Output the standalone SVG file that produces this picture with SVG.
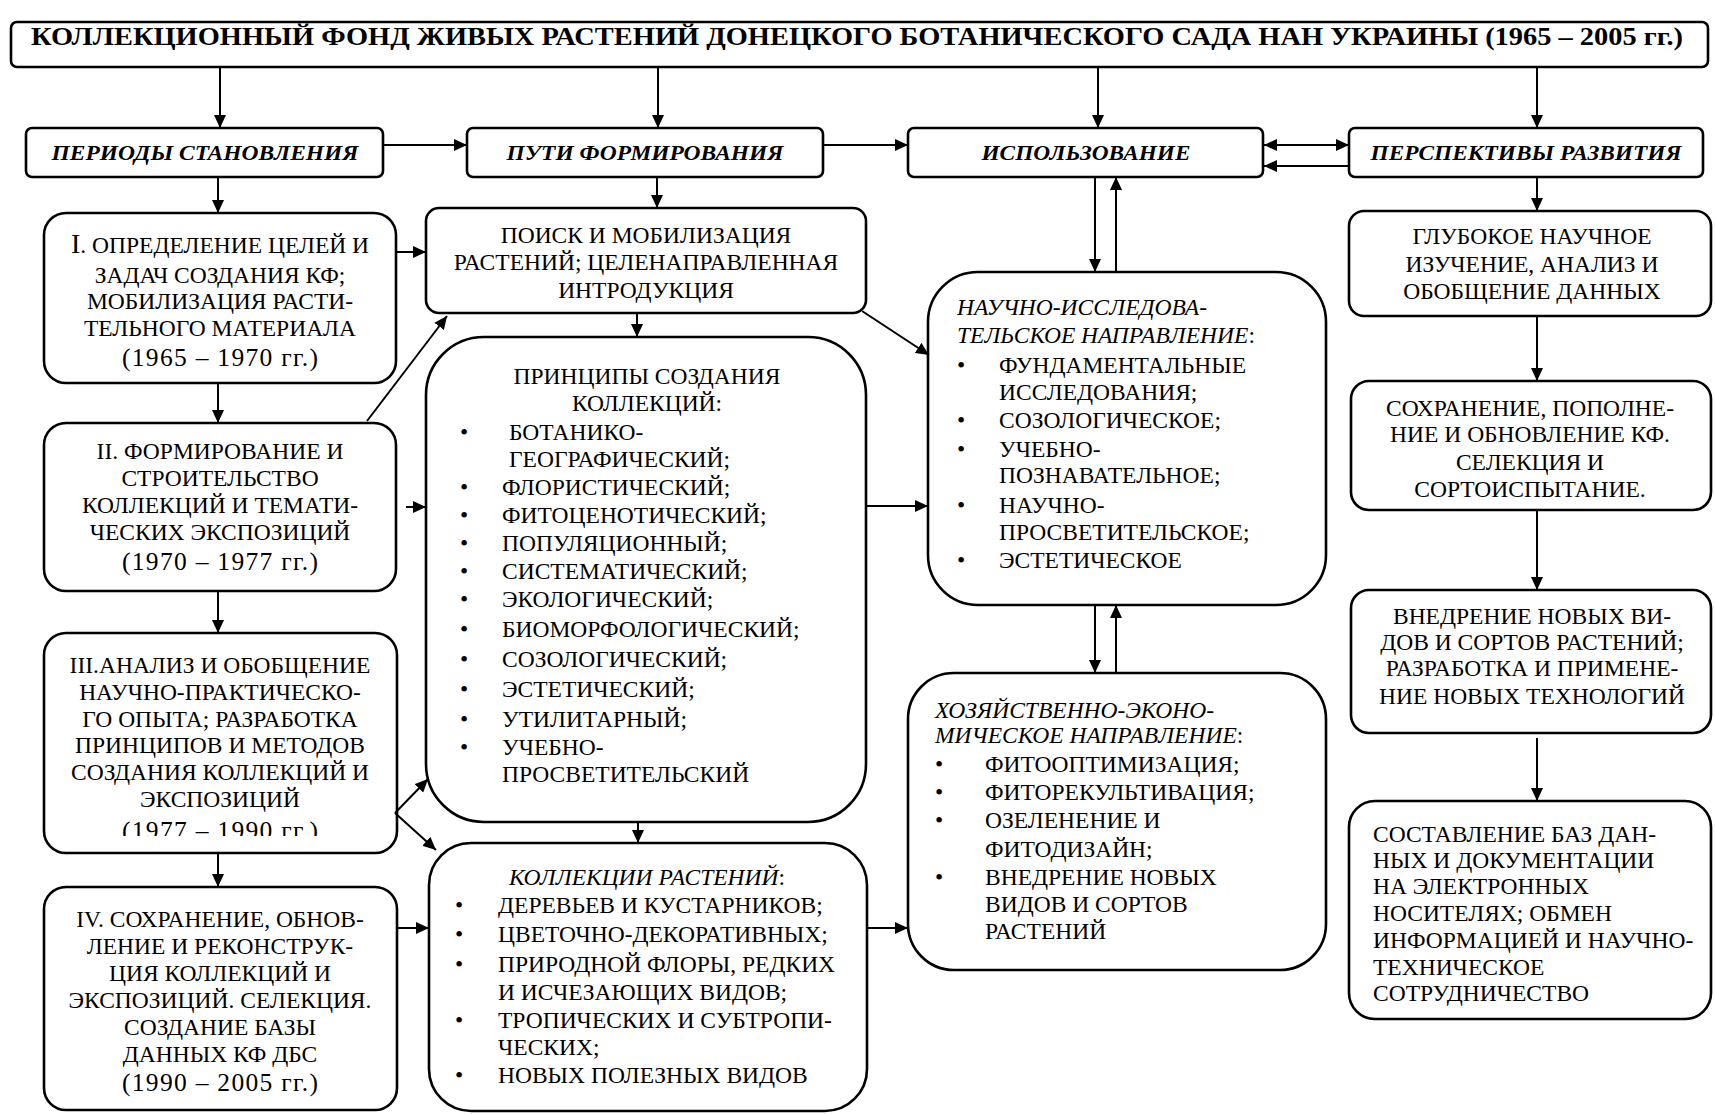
<svg xmlns="http://www.w3.org/2000/svg" width="1715" height="1114" viewBox="0 0 1715 1114">
<style>
.box{fill:#fff;stroke:#000;stroke-width:2.6}
.ln{fill:none;stroke:#000;stroke-width:2}
text{font-family:"Liberation Serif","Times New Roman",serif;fill:#000}
.t{font-size:23.5px}
.c{text-anchor:middle}
.it{font-style:italic}
.d{font-size:25.5px;text-anchor:middle}
.h{font-size:21px;font-weight:bold;font-style:italic;text-anchor:middle}
.ti{font-size:26px;font-weight:bold;text-anchor:middle}
</style>
<defs>
<marker id="ah" markerUnits="userSpaceOnUse" markerWidth="14" markerHeight="12" refX="13" refY="6" orient="auto-start-reverse">
<path d="M0,0 L13,6 L0,12 z" fill="#000"/>
</marker>
<clipPath id="clip3"><rect x="40" y="640" width="360" height="196"/></clipPath>
</defs>

<g id="title">
<rect class="box" x="11" y="22" width="1697" height="45" rx="6"/>
<text class="ti" x="857" y="45" textLength="1652" lengthAdjust="spacingAndGlyphs">КОЛЛЕКЦИОННЫЙ ФОНД ЖИВЫХ РАСТЕНИЙ ДОНЕЦКОГО БОТАНИЧЕСКОГО САДА  НАН УКРАИНЫ  (1965 – 2005 гг.)</text>
</g>

<g id="periods">
<rect class="box" x="26" y="128" width="357" height="49" rx="6"/>
<text class="h" x="205" y="160" textLength="307" lengthAdjust="spacingAndGlyphs">ПЕРИОДЫ СТАНОВЛЕНИЯ</text>
</g>
<g id="ways">
<rect class="box" x="467" y="128" width="356" height="49" rx="6"/>
<text class="h" x="645" y="160" textLength="277" lengthAdjust="spacingAndGlyphs">ПУТИ ФОРМИРОВАНИЯ</text>
</g>
<g id="usage">
<rect class="box" x="908" y="128" width="355" height="49" rx="6"/>
<text class="h" x="1086" y="160" textLength="209" lengthAdjust="spacingAndGlyphs">ИСПОЛЬЗОВАНИЕ</text>
</g>
<g id="prospects">
<rect class="box" x="1349" y="128" width="354" height="49" rx="6"/>
<text class="h" x="1526" y="160" textLength="311" lengthAdjust="spacingAndGlyphs">ПЕРСПЕКТИВЫ РАЗВИТИЯ</text>
</g>

<g id="period1">
<rect class="box" x="44" y="213" width="352" height="170" rx="22"/>
<text class="t c" x="220"><tspan x="220" y="253"><tspan font-size="28">I</tspan>. ОПРЕДЕЛЕНИЕ ЦЕЛЕЙ И</tspan><tspan x="220" y="283">ЗАДАЧ СОЗДАНИЯ КФ;</tspan><tspan x="220" y="309">МОБИЛИЗАЦИЯ РАСТИ-</tspan><tspan x="220" y="336">ТЕЛЬНОГО МАТЕРИАЛА</tspan></text>
<text class="d" x="220" y="366" textLength="196" lengthAdjust="spacing">(1965 – 1970 гг.)</text>
</g>
<g id="period2">
<rect class="box" x="44" y="423" width="352" height="168" rx="22"/>
<text class="t c" x="220"><tspan x="220" y="459">II. ФОРМИРОВАНИЕ И</tspan><tspan x="220" y="486">СТРОИТЕЛЬСТВО</tspan><tspan x="220" y="513">КОЛЛЕКЦИЙ И ТЕМАТИ-</tspan><tspan x="220" y="540">ЧЕСКИХ ЭКСПОЗИЦИЙ</tspan></text>
<text class="d" x="220" y="570" textLength="196" lengthAdjust="spacing">(1970 – 1977 гг.)</text>
</g>
<g id="period3">
<rect class="box" x="44" y="633" width="353" height="220" rx="22"/>
<text class="t c" x="220"><tspan x="220" y="673">III.АНАЛИЗ И ОБОБЩЕНИЕ</tspan><tspan x="220" y="700">НАУЧНО-ПРАКТИЧЕСКО-</tspan><tspan x="220" y="727">ГО ОПЫТА; РАЗРАБОТКА</tspan><tspan x="220" y="753">ПРИНЦИПОВ И МЕТОДОВ</tspan><tspan x="220" y="780">СОЗДАНИЯ КОЛЛЕКЦИЙ И</tspan><tspan x="220" y="807">ЭКСПОЗИЦИЙ</tspan></text>
<text class="d" x="220" y="839" textLength="196" lengthAdjust="spacing" clip-path="url(#clip3)">(1977 – 1990 гг.)</text>
</g>
<g id="period4">
<rect class="box" x="44" y="887" width="353" height="223" rx="22"/>
<text class="t c" x="220"><tspan x="220" y="927">IV. СОХРАНЕНИЕ, ОБНОВ-</tspan><tspan x="220" y="954">ЛЕНИЕ И РЕКОНСТРУК-</tspan><tspan x="220" y="981">ЦИЯ КОЛЛЕКЦИЙ И</tspan><tspan x="220" y="1008">ЭКСПОЗИЦИЙ. СЕЛЕКЦИЯ.</tspan><tspan x="220" y="1035">СОЗДАНИЕ БАЗЫ</tspan><tspan x="220" y="1062">ДАННЫХ КФ ДБС</tspan></text>
<text class="d" x="220" y="1091" textLength="196" lengthAdjust="spacing">(1990 – 2005 гг.)</text>
</g>

<g id="search">
<rect class="box" x="426" y="208" width="440" height="105" rx="13"/>
<text class="t c" x="646"><tspan x="646" y="243">ПОИСК И МОБИЛИЗАЦИЯ</tspan><tspan x="646" y="270">РАСТЕНИЙ; ЦЕЛЕНАПРАВЛЕННАЯ</tspan><tspan x="646" y="298">ИНТРОДУКЦИЯ</tspan></text>
</g>
<g id="principles">
<rect class="box" x="426" y="337" width="440" height="485" rx="58"/>
<text class="t c" x="647"><tspan x="647" y="384">ПРИНЦИПЫ СОЗДАНИЯ</tspan><tspan x="647" y="411">КОЛЛЕКЦИЙ:</tspan></text>
<text class="t"><tspan x="460" y="440">•</tspan><tspan x="460" y="495">•</tspan><tspan x="460" y="523">•</tspan><tspan x="460" y="551">•</tspan><tspan x="460" y="579">•</tspan><tspan x="460" y="607">•</tspan><tspan x="460" y="637">•</tspan><tspan x="460" y="667">•</tspan><tspan x="460" y="697">•</tspan><tspan x="460" y="727">•</tspan><tspan x="460" y="755">•</tspan></text>
<text class="t"><tspan x="509" y="440">БОТАНИКО-</tspan><tspan x="509" y="467">ГЕОГРАФИЧЕСКИЙ;</tspan><tspan x="502" y="495">ФЛОРИСТИЧЕСКИЙ;</tspan><tspan x="502" y="523">ФИТОЦЕНОТИЧЕСКИЙ;</tspan><tspan x="502" y="551">ПОПУЛЯЦИОННЫЙ;</tspan><tspan x="502" y="579">СИСТЕМАТИЧЕСКИЙ;</tspan><tspan x="502" y="607">ЭКОЛОГИЧЕСКИЙ;</tspan><tspan x="502" y="637">БИОМОРФОЛОГИЧЕСКИЙ;</tspan><tspan x="502" y="667">СОЗОЛОГИЧЕСКИЙ;</tspan><tspan x="502" y="697">ЭСТЕТИЧЕСКИЙ;</tspan><tspan x="502" y="727">УТИЛИТАРНЫЙ;</tspan><tspan x="502" y="755">УЧЕБНО-</tspan><tspan x="502" y="782">ПРОСВЕТИТЕЛЬСКИЙ</tspan></text>
</g>
<g id="collections">
<rect class="box" x="429" y="843" width="438" height="268" rx="42"/>
<text class="t c" x="647" y="885"><tspan class="it">КОЛЛЕКЦИИ РАСТЕНИЙ</tspan>:</text>
<text class="t"><tspan x="455" y="913">•</tspan><tspan x="455" y="942">•</tspan><tspan x="455" y="972">•</tspan><tspan x="455" y="1028">•</tspan><tspan x="455" y="1083">•</tspan></text>
<text class="t"><tspan x="498" y="913">ДЕРЕВЬЕВ И КУСТАРНИКОВ;</tspan><tspan x="498" y="942">ЦВЕТОЧНО-ДЕКОРАТИВНЫХ;</tspan><tspan x="498" y="972">ПРИРОДНОЙ ФЛОРЫ, РЕДКИХ</tspan><tspan x="498" y="1000">И ИСЧЕЗАЮЩИХ ВИДОВ;</tspan><tspan x="498" y="1028">ТРОПИЧЕСКИХ И СУБТРОПИ-</tspan><tspan x="498" y="1055">ЧЕСКИХ;</tspan><tspan x="498" y="1083">НОВЫХ ПОЛЕЗНЫХ ВИДОВ</tspan></text>
</g>

<g id="research">
<rect class="box" x="928" y="272" width="398" height="333" rx="50"/>
<text class="t"><tspan x="957" y="315" class="it">НАУЧНО-ИССЛЕДОВА-</tspan><tspan x="957" y="343"><tspan class="it">ТЕЛЬСКОЕ НАПРАВЛЕНИЕ</tspan>:</tspan></text>
<text class="t"><tspan x="957" y="373">•</tspan><tspan x="957" y="428">•</tspan><tspan x="957" y="457">•</tspan><tspan x="957" y="513">•</tspan><tspan x="957" y="568">•</tspan></text>
<text class="t"><tspan x="999" y="373">ФУНДАМЕНТАЛЬНЫЕ</tspan><tspan x="999" y="400">ИССЛЕДОВАНИЯ;</tspan><tspan x="999" y="428">СОЗОЛОГИЧЕСКОЕ;</tspan><tspan x="999" y="457">УЧЕБНО-</tspan><tspan x="999" y="483">ПОЗНАВАТЕЛЬНОЕ;</tspan><tspan x="999" y="513">НАУЧНО-</tspan><tspan x="999" y="540">ПРОСВЕТИТЕЛЬСКОЕ;</tspan><tspan x="999" y="568">ЭСТЕТИЧЕСКОЕ</tspan></text>
</g>
<g id="economic">
<rect class="box" x="908" y="673" width="418" height="297" rx="46"/>
<text class="t"><tspan x="935" y="718" class="it">ХОЗЯЙСТВЕННО-ЭКОНО-</tspan><tspan x="935" y="743"><tspan class="it">МИЧЕСКОЕ НАПРАВЛЕНИЕ</tspan>:</tspan></text>
<text class="t"><tspan x="935" y="772">•</tspan><tspan x="935" y="800">•</tspan><tspan x="935" y="828">•</tspan><tspan x="935" y="885">•</tspan></text>
<text class="t"><tspan x="985" y="772">ФИТООПТИМИЗАЦИЯ;</tspan><tspan x="985" y="800">ФИТОРЕКУЛЬТИВАЦИЯ;</tspan><tspan x="985" y="828">ОЗЕЛЕНЕНИЕ И</tspan><tspan x="985" y="857">ФИТОДИЗАЙН;</tspan><tspan x="985" y="885">ВНЕДРЕНИЕ НОВЫХ</tspan><tspan x="985" y="912">ВИДОВ И СОРТОВ</tspan><tspan x="985" y="939">РАСТЕНИЙ</tspan></text>
</g>

<g id="deep">
<rect class="box" x="1349" y="211" width="362" height="105" rx="15"/>
<text class="t c" x="1532"><tspan x="1532" y="244">ГЛУБОКОЕ НАУЧНОЕ</tspan><tspan x="1532" y="272">ИЗУЧЕНИЕ, АНАЛИЗ И</tspan><tspan x="1532" y="299">ОБОБЩЕНИЕ ДАННЫХ</tspan></text>
</g>
<g id="preserve">
<rect class="box" x="1351" y="381" width="360" height="129" rx="18"/>
<text class="t c" x="1530"><tspan x="1530" y="416">СОХРАНЕНИЕ, ПОПОЛНЕ-</tspan><tspan x="1530" y="442">НИЕ И ОБНОВЛЕНИЕ  КФ.</tspan><tspan x="1530" y="470">СЕЛЕКЦИЯ И</tspan><tspan x="1530" y="497">СОРТОИСПЫТАНИЕ.</tspan></text>
</g>
<g id="introduce">
<rect class="box" x="1351" y="590" width="360" height="143" rx="18"/>
<text class="t c" x="1532"><tspan x="1532" y="624">ВНЕДРЕНИЕ НОВЫХ ВИ-</tspan><tspan x="1532" y="650">ДОВ И СОРТОВ РАСТЕНИЙ;</tspan><tspan x="1532" y="676">РАЗРАБОТКА И ПРИМЕНЕ-</tspan><tspan x="1532" y="704">НИЕ НОВЫХ  ТЕХНОЛОГИЙ</tspan></text>
</g>
<g id="database">
<rect class="box" x="1349" y="801" width="362" height="218" rx="26"/>
<text class="t"><tspan x="1373" y="842">СОСТАВЛЕНИЕ БАЗ ДАН-</tspan><tspan x="1373" y="868">НЫХ И ДОКУМЕНТАЦИИ</tspan><tspan x="1373" y="894">НА ЭЛЕКТРОННЫХ</tspan><tspan x="1373" y="921">НОСИТЕЛЯХ; ОБМЕН</tspan><tspan x="1373" y="948">ИНФОРМАЦИЕЙ И НАУЧНО-</tspan><tspan x="1373" y="975">ТЕХНИЧЕСКОЕ</tspan><tspan x="1373" y="1001">СОТРУДНИЧЕСТВО</tspan></text>
</g>

<g id="connectors" class="ln" marker-end="url(#ah)">
<line x1="220" y1="67" x2="220" y2="128"/>
<line x1="658" y1="67" x2="658" y2="128"/>
<line x1="1098" y1="67" x2="1098" y2="128"/>
<line x1="1537" y1="67" x2="1537" y2="128"/>
<line x1="383" y1="145" x2="467" y2="145"/>
<line x1="823" y1="145" x2="908" y2="145"/>
<line x1="1264" y1="145" x2="1349" y2="145" marker-start="url(#ah)"/>
<line x1="1349" y1="166" x2="1264" y2="166"/>
<line x1="218" y1="177" x2="218" y2="213"/>
<line x1="657" y1="177" x2="657" y2="208"/>
<line x1="1537" y1="177" x2="1537" y2="211"/>
<line x1="1095" y1="177" x2="1095" y2="272"/>
<line x1="1116" y1="272" x2="1116" y2="177"/>
<line x1="396" y1="252" x2="426" y2="252"/>
<line x1="218" y1="383" x2="218" y2="423"/>
<line x1="367" y1="421" x2="447" y2="316"/>
<line x1="406" y1="507" x2="426" y2="507"/>
<line x1="218" y1="591" x2="218" y2="633"/>
<line x1="395" y1="813" x2="428" y2="779"/>
<line x1="395" y1="813" x2="436" y2="850"/>
<line x1="218" y1="853" x2="218" y2="887"/>
<line x1="397" y1="928" x2="429" y2="928"/>
<line x1="637" y1="313" x2="637" y2="337"/>
<line x1="862" y1="311" x2="929" y2="355"/>
<line x1="866" y1="506" x2="928" y2="506"/>
<line x1="638" y1="822" x2="638" y2="843"/>
<line x1="867" y1="928" x2="908" y2="928"/>
<line x1="1095" y1="605" x2="1095" y2="673"/>
<line x1="1116" y1="673" x2="1116" y2="605"/>
<line x1="1537" y1="316" x2="1537" y2="381"/>
<line x1="1537" y1="510" x2="1537" y2="590"/>
<line x1="1537" y1="738" x2="1537" y2="801"/>
</g>
</svg>
